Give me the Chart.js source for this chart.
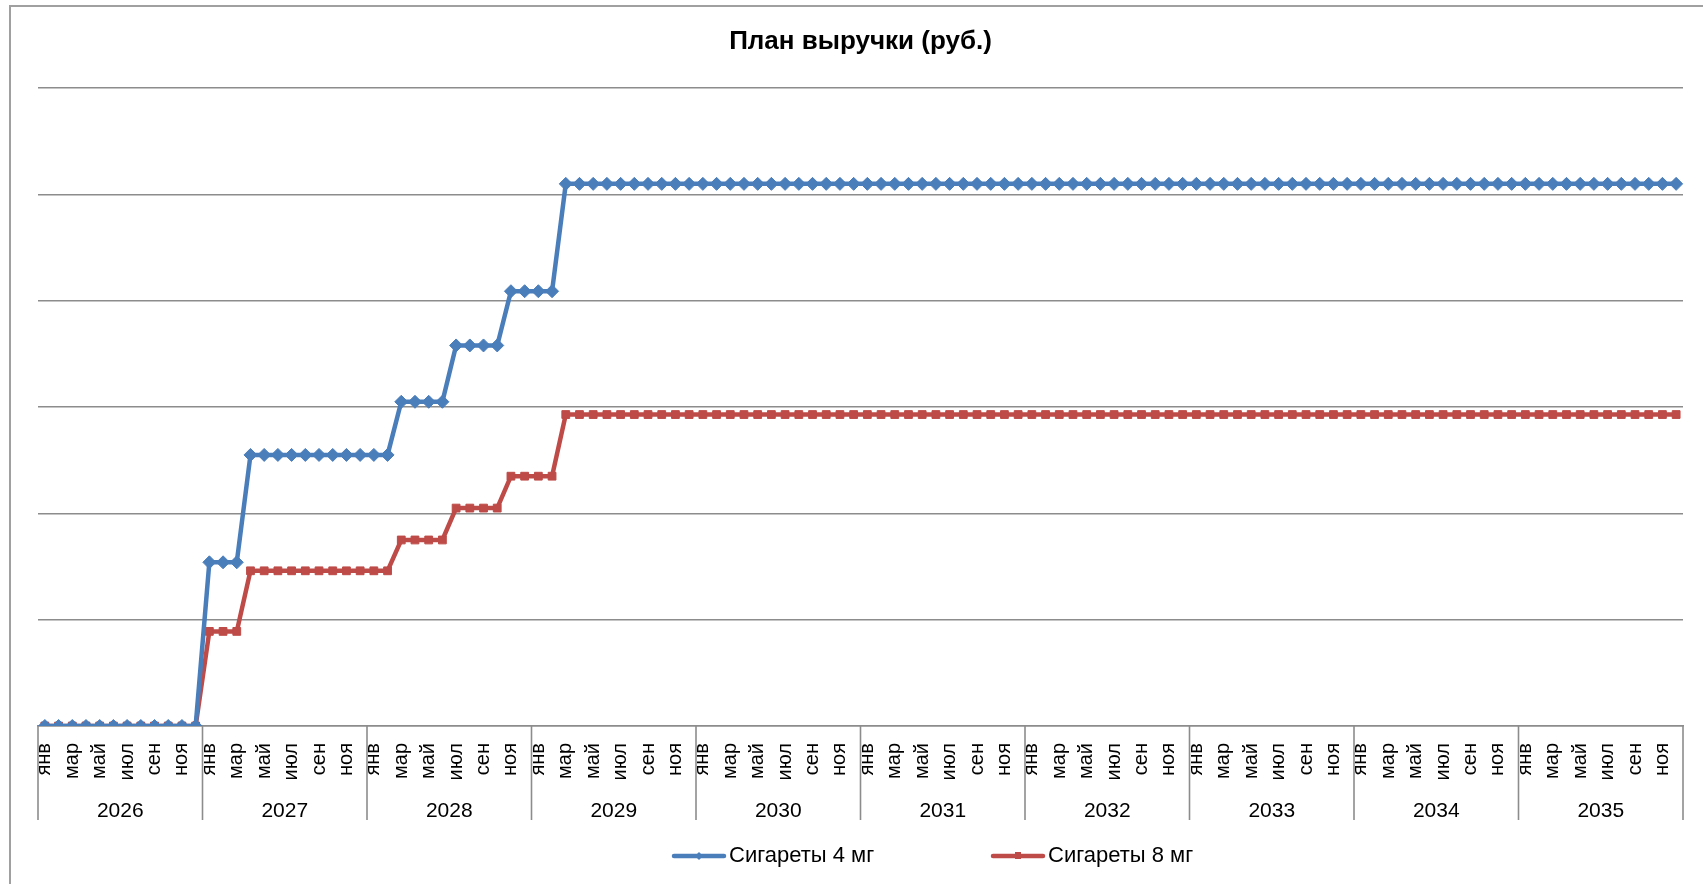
<!DOCTYPE html>
<html lang="ru">
<head>
<meta charset="utf-8">
<title>План выручки (руб.)</title>
<script src="https://cdn.jsdelivr.net/npm/chart.js@4.4.1/dist/chart.umd.min.js"></script>
<style>
    html, body { margin: 0; padding: 0; background: #fff; }
    #wrap { position: relative; width: 1703px; height: 884px; overflow: hidden; }
    #frame { position: absolute; left: 9px; top: 5px; right: -10px; bottom: -10px;
             border-left: 2px solid #a0a0a0; border-top: 2px solid #a0a0a0; }
    #chart { position: absolute; left: 0; top: 0; }
</style>
</head>
<body>
<div id="wrap">
    <div id="frame"></div>
    <canvas id="chart" width="1703" height="884"></canvas>
</div>
<script>
var years = ["2026", "2027", "2028", "2029", "2030", "2031", "2032", "2033", "2034", "2035"];
var months = ["янв", "фев", "мар", "апр", "май", "июн", "июл", "авг", "сен", "окт", "ноя", "дек"];

// Сигареты 4 мг, по месяцам
var cig4 = [
    0, 0, 0, 0, 0, 0, 0, 0, 0, 0, 0, 0,
    1.54, 1.54, 1.54, 2.55, 2.55, 2.55, 2.55, 2.55, 2.55, 2.55, 2.55, 2.55,
    2.55, 2.55, 3.05, 3.05, 3.05, 3.05, 3.58, 3.58, 3.58, 3.58, 4.09, 4.09,
    4.09, 4.09, 5.10, 5.10, 5.10, 5.10, 5.10, 5.10, 5.10, 5.10, 5.10, 5.10,
    5.10, 5.10, 5.10, 5.10, 5.10, 5.10, 5.10, 5.10, 5.10, 5.10, 5.10, 5.10,
    5.10, 5.10, 5.10, 5.10, 5.10, 5.10, 5.10, 5.10, 5.10, 5.10, 5.10, 5.10,
    5.10, 5.10, 5.10, 5.10, 5.10, 5.10, 5.10, 5.10, 5.10, 5.10, 5.10, 5.10,
    5.10, 5.10, 5.10, 5.10, 5.10, 5.10, 5.10, 5.10, 5.10, 5.10, 5.10, 5.10,
    5.10, 5.10, 5.10, 5.10, 5.10, 5.10, 5.10, 5.10, 5.10, 5.10, 5.10, 5.10,
    5.10, 5.10, 5.10, 5.10, 5.10, 5.10, 5.10, 5.10, 5.10, 5.10, 5.10, 5.10
];

// Сигареты 8 мг, по месяцам
var cig8 = [
    0, 0, 0, 0, 0, 0, 0, 0, 0, 0, 0, 0,
    0.89, 0.89, 0.89, 1.46, 1.46, 1.46, 1.46, 1.46, 1.46, 1.46, 1.46, 1.46,
    1.46, 1.46, 1.75, 1.75, 1.75, 1.75, 2.05, 2.05, 2.05, 2.05, 2.35, 2.35,
    2.35, 2.35, 2.93, 2.93, 2.93, 2.93, 2.93, 2.93, 2.93, 2.93, 2.93, 2.93,
    2.93, 2.93, 2.93, 2.93, 2.93, 2.93, 2.93, 2.93, 2.93, 2.93, 2.93, 2.93,
    2.93, 2.93, 2.93, 2.93, 2.93, 2.93, 2.93, 2.93, 2.93, 2.93, 2.93, 2.93,
    2.93, 2.93, 2.93, 2.93, 2.93, 2.93, 2.93, 2.93, 2.93, 2.93, 2.93, 2.93,
    2.93, 2.93, 2.93, 2.93, 2.93, 2.93, 2.93, 2.93, 2.93, 2.93, 2.93, 2.93,
    2.93, 2.93, 2.93, 2.93, 2.93, 2.93, 2.93, 2.93, 2.93, 2.93, 2.93, 2.93,
    2.93, 2.93, 2.93, 2.93, 2.93, 2.93, 2.93, 2.93, 2.93, 2.93, 2.93, 2.93
];

var seriesNames = ["Сигареты 4 мг", "Сигареты 8 мг"];
var blue = "#4a7ebb";
var red = "#be4b48";
var gridColor = "#8c8c8c";
var fontFamily = "'Liberation Sans', Arial, sans-serif";

var labels = [];
years.forEach(y => {
    months.forEach(m => labels.push(m));
});

// year groups under the month labels + legend, Excel style
var excelBits = {
    id: "excelBits",
    afterDraw(chart) {
        var ctx = chart.ctx;
        var xs = chart.scales.x;
        var area = chart.chartArea;
        var edges = [];
        for (var i = 0; i <= years.length; i++) {
            if (i === 0) edges.push(area.left);
            else if (i === years.length) edges.push(area.right);
            else edges.push((xs.getPixelForValue(i * 12 - 1) + xs.getPixelForValue(i * 12)) / 2);
        }

        ctx.save();
        ctx.strokeStyle = gridColor;
        ctx.lineWidth = 1.6;
        edges.forEach(px => {
            ctx.beginPath();
            ctx.moveTo(px, area.bottom);
            ctx.lineTo(px, 820);
            ctx.stroke();
        });

        ctx.fillStyle = "#000";
        ctx.font = "21px " + fontFamily;
        ctx.textAlign = "center";
        ctx.textBaseline = "middle";
        years.forEach((y, i) => {
            ctx.fillText(y, (edges[i] + edges[i + 1]) / 2, 811);
        });

        // legend
        var lx = [672, 991];
        var ly = 856;
        chart.data.datasets.forEach((ds, i) => {
            var x0 = lx[i];
            ctx.strokeStyle = ds.borderColor;
            ctx.lineWidth = 4.5;
            ctx.lineCap = "round";
            ctx.beginPath();
            ctx.moveTo(x0 + 2, ly);
            ctx.lineTo(x0 + 52, ly);
            ctx.stroke();
            ctx.fillStyle = ds.borderColor;
            ctx.beginPath();
            if (ds.pointStyle === "rectRot") {
                ctx.moveTo(x0 + 27, ly - 4);
                ctx.lineTo(x0 + 31, ly);
                ctx.lineTo(x0 + 27, ly + 4);
                ctx.lineTo(x0 + 23, ly);
            } else {
                ctx.rect(x0 + 24, ly - 4, 6, 7);
            }
            ctx.fill();
            ctx.fillStyle = "#000";
            ctx.textAlign = "left";
            ctx.font = "22px " + fontFamily;
            ctx.fillText(ds.label, x0 + 57, ly);
        });
        ctx.restore();
    }
};

new Chart(document.getElementById("chart"), {
    type: "line",
    data: {
        labels: labels,
        datasets: [{
            label: seriesNames[0],
            data: cig4,
            borderColor: blue,
            backgroundColor: blue,
            borderWidth: 4.5,
            pointStyle: "rectRot",
            pointRadius: 6.5,
            pointBorderWidth: 1,
            pointBackgroundColor: blue,
            pointBorderColor: blue,
            tension: 0
        }, {
            label: seriesNames[1],
            data: cig8,
            borderColor: red,
            backgroundColor: red,
            borderWidth: 4.5,
            pointStyle: "rect",
            pointRadius: 5.5,
            pointBorderWidth: 1,
            pointBackgroundColor: red,
            pointBorderColor: red,
            tension: 0
        }]
    },
    options: {
        responsive: false,
        animation: false,
        layout: {
            padding: { left: 38, right: 20, top: 0, bottom: 0 }
        },
        plugins: {
            legend: { display: false },
            tooltip: { enabled: false },
            title: {
                display: true,
                text: "План выручки (руб.)",
                color: "#000",
                font: { family: fontFamily, size: 26, weight: "bold" },
                padding: { top: 26, bottom: 31 }
            }
        },
        scales: {
            x: {
                offset: true,
                grid: { display: false },
                border: { display: true, color: gridColor, width: 1.6 },
                ticks: {
                    autoSkip: false,
                    maxRotation: 90,
                    minRotation: 90,
                    padding: 9,
                    color: "#000",
                    font: { family: fontFamily, size: 20 },
                    callback: (v, i) => i % 2 === 0 ? months[i % 12] : ""
                },
                afterFit: s => {
                    s.height = 158;
                    s.paddingLeft = 0;
                    s.paddingRight = 0;
                }
            },
            y: {
                min: 0,
                max: 6,
                ticks: { display: false, stepSize: 1 },
                grid: { color: gridColor, lineWidth: 1.6, drawTicks: false },
                border: { display: false }
            }
        }
    },
    plugins: [excelBits]
});
</script>
</body>
</html>
